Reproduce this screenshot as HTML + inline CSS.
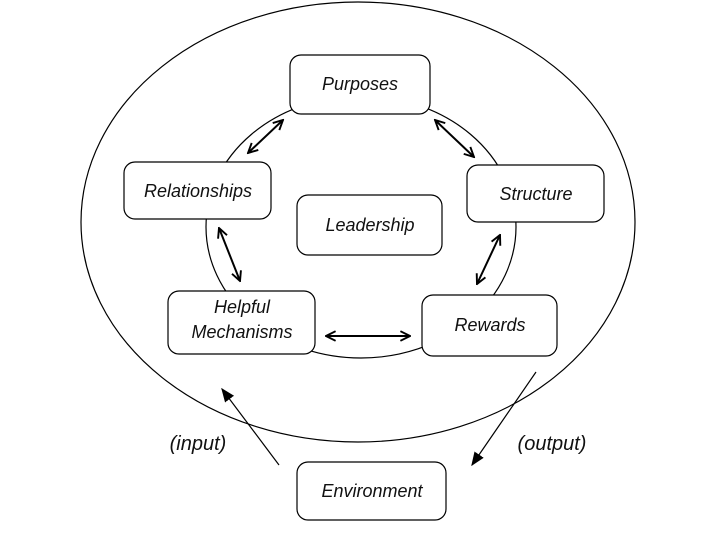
<!DOCTYPE html>
<html><head><style>
html,body{margin:0;padding:0;background:#fff;}
svg{display:block}
text{font-family:"Liberation Sans",Arial,sans-serif;font-style:italic;font-size:18px;fill:#111;text-anchor:middle;}
</style></head><body>
<svg width="720" height="540" viewBox="0 0 720 540" xmlns="http://www.w3.org/2000/svg">
<defs>
<marker id="o" viewBox="0 0 10 10" refX="9" refY="5" markerWidth="12" markerHeight="12" markerUnits="userSpaceOnUse" orient="auto-start-reverse">
<path d="M1,1 L9,5 L1,9" fill="none" stroke="#000" stroke-width="1.6"/>
</marker>
<marker id="f" viewBox="0 0 10 10" refX="9" refY="5" markerWidth="14" markerHeight="14" markerUnits="userSpaceOnUse" orient="auto">
<path d="M0,1 L10,5 L0,9 Z" fill="#000"/>
</marker>
</defs>
<ellipse cx="358" cy="222" rx="277" ry="220" fill="none" stroke="#000" stroke-width="1.2"/>
<ellipse cx="361" cy="227" rx="155" ry="131" fill="none" stroke="#000" stroke-width="1.2"/>
<g fill="#fff" stroke="#000" stroke-width="1.2">
<rect x="290" y="55" width="140" height="59" rx="11"/>
<rect x="124" y="162" width="147" height="57" rx="11"/>
<rect x="467" y="165" width="137" height="57" rx="11"/>
<rect x="297" y="195" width="145" height="60" rx="11"/>
<rect x="168" y="291" width="147" height="63" rx="11"/>
<rect x="422" y="295" width="135" height="61" rx="11"/>
<rect x="297" y="462" width="149" height="58" rx="11"/>
</g>
<g stroke="#000" stroke-width="2" fill="none">
<line x1="283" y1="120" x2="248" y2="153" marker-start="url(#o)" marker-end="url(#o)"/>
<line x1="435" y1="120" x2="474" y2="157" marker-start="url(#o)" marker-end="url(#o)"/>
<line x1="219" y1="228" x2="240" y2="281" marker-start="url(#o)" marker-end="url(#o)"/>
<line x1="500" y1="235" x2="477" y2="284" marker-start="url(#o)" marker-end="url(#o)"/>
<line x1="326" y1="336" x2="410" y2="336" marker-start="url(#o)" marker-end="url(#o)"/>
</g>
<line x1="279" y1="465" x2="222" y2="389" stroke="#000" stroke-width="1.2" marker-end="url(#f)"/>
<line x1="536" y1="372" x2="472" y2="465" stroke="#000" stroke-width="1.2" marker-end="url(#f)"/>
<text x="360" y="90">Purposes</text>
<text x="198" y="197">Relationships</text>
<text x="536" y="200">Structure</text>
<text x="370" y="231">Leadership</text>
<text x="242" y="313">Helpful</text>
<text x="242" y="338">Mechanisms</text>
<text x="490" y="331">Rewards</text>
<text x="372" y="497">Environment</text>
<text x="198" y="450" style="font-size:20px">(input)</text>
<text x="552" y="450" style="font-size:20px">(output)</text>
</svg>
</body></html>
